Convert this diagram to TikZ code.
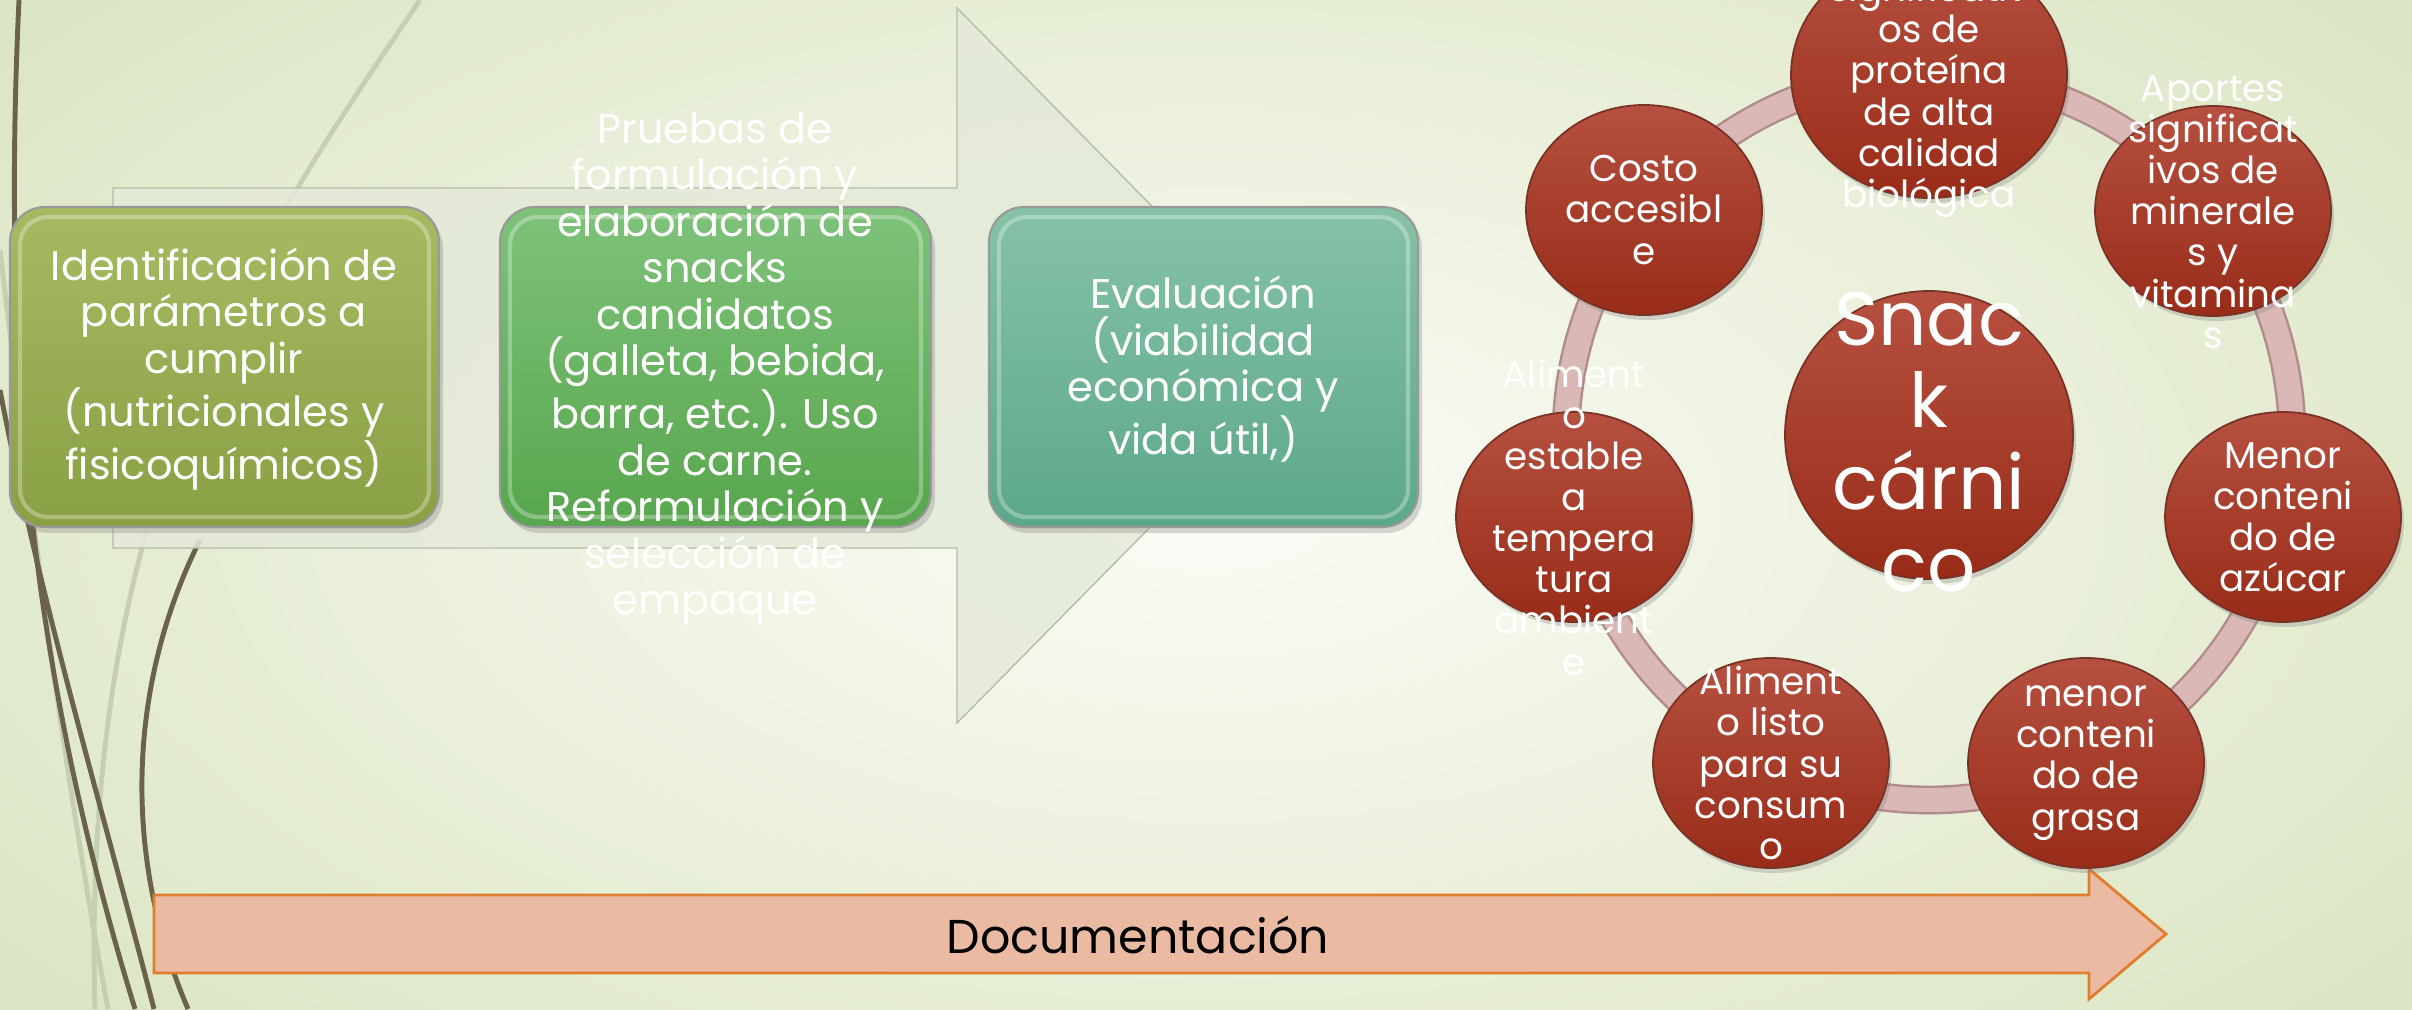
\documentclass[tikz,border=0pt]{standalone}
\usepackage{fontspec}
\setmainfont{Poppins}
\usetikzlibrary{shapes,shadows}
\definecolor{fondo}{RGB}{220,230,196}
\definecolor{claro}{RGB}{251,252,247}
\definecolor{cafe}{RGB}{108,98,76}
\definecolor{cafecl}{RGB}{198,208,176}
\definecolor{grisfl}{RGB}{228,234,216}
\definecolor{grisbd}{RGB}{180,188,170}
\definecolor{olivoa}{RGB}{166,186,98}
\definecolor{olivob}{RGB}{138,160,68}
\definecolor{verdea}{RGB}{126,194,122}
\definecolor{verdeb}{RGB}{88,166,78}
\definecolor{aguaa}{RGB}{134,194,168}
\definecolor{aguab}{RGB}{92,168,138}
\definecolor{rojoa}{RGB}{182,80,64}
\definecolor{rojob}{RGB}{152,44,24}
\definecolor{rojod}{RGB}{120,50,38}
\definecolor{rosa}{RGB}{218,184,182}
\definecolor{rosab}{RGB}{178,140,138}
\definecolor{salmon}{RGB}{234,187,162}
\definecolor{naranja}{RGB}{224,126,48}
\tikzstyle{caja}=[rounded corners=.35cm,draw=black!40,line width=.6pt,drop shadow={opacity=.3,shadow xshift=.04cm,shadow yshift=-.06cm}]
\tikzstyle{brillo}=[rounded corners=.28cm,draw=white,opacity=.3,line width=1.2pt]
\tikzstyle{bola}=[draw=rojod,line width=.5pt,top color=rojoa,bottom color=rojob,drop shadow={opacity=.3,shadow xshift=.03cm,shadow yshift=-.05cm}]
\tikzstyle{txt}=[white,align=center,inner sep=0pt,font=\fontsize{11.8}{13.2}\selectfont]
\tikzstyle{txtb}=[white,align=center,inner sep=0pt,font=\fontsize{10.6}{11.7}\selectfont]
\tikzstyle{tallo}=[draw=cafe,line width=1.4pt]
\tikzstyle{tallocl}=[draw=cafecl,line width=1.4pt]

\begin{document}
\begin{tikzpicture}[x=.01cm,y=-.01cm]
\useasboundingbox (0,0) rectangle (2412,1009);
\shade[inner color=claro,outer color=fondo] (-300,-250) rectangle (2712,1259);
\draw[tallocl] (420,0) .. controls (250,250) and (80,500) .. (95,1009);
\draw[tallocl] (0,250) .. controls (30,500) and (60,750) .. (108,1009);
\draw[tallo] (19,0) .. controls (0,400) and (40,700) .. (135,1009);
\draw[tallo] (0,390) .. controls (40,600) and (100,800) .. (154,1009);
\draw[tallo] (200,540) .. controls (130,680) and (120,850) .. (188,1009);
\draw[draw=grisbd,fill=grisfl,fill opacity=.85] (113,188) -- (957,188) -- (957,8) -- (1309,366) -- (957,723) -- (957,548) -- (113,548) -- cycle;
\draw[caja,top color=olivoa,bottom color=olivob] (10,207) rectangle (439,527);
\draw[brillo] (20,217) rectangle (429,517);
\draw[caja,top color=verdea,bottom color=verdeb] (500,207) rectangle (931,527);
\draw[brillo] (510,217) rectangle (921,517);
\draw[caja,top color=aguaa,bottom color=aguab] (989,207) rectangle (1418,527);
\draw[brillo] (999,217) rectangle (1408,517);
\draw (224,369) node[txt] (ident) {Identificación de\\parámetros a\\cumplir\\(nutricionales y\\fisicoquímicos)};
\draw (715,369) node[txt] (prueba) {Pruebas de\\formulación y\\elaboración de\\snacks\\candidatos\\(galleta, bebida,\\barra, etc.). Uso\\de carne.\\Reformulación y\\selección de\\empaque};
\draw (1203,369) node[txt] (evalua) {Evaluación\\(viabilidad\\económica y\\vida útil,)};
\draw[draw=naranja,fill=salmon,line width=.8pt] (154,895) -- (2089,895) -- (2089,869) -- (2166,934) -- (2089,999) -- (2089,973) -- (154,973) -- cycle;
\draw (1138,935) node[inner sep=0pt,font=\fontsize{13.5}{16}\selectfont] (docu) {Documentación};
\draw[rosab,line width=8.2pt] (1929,437) circle (363);
\draw[rosa,line width=6.8pt] (1929,437) circle (363);
\draw[bola] (1929,435) circle (144);
\draw[bola] (1929,75) ellipse (138 and 123);
\draw[bola] (1644,210) ellipse (118 and 105);
\draw[bola] (2213,211) ellipse (118 and 105);
\draw[bola] (1574,517) ellipse (118 and 105);
\draw[bola] (2283,517) ellipse (118 and 105);
\draw[bola] (1771,763) ellipse (118 and 105);
\draw[bola] (2086,763) ellipse (118 and 105);
\draw (1929,442) node[white,align=center,inner sep=0pt,font=\fontsize{21.5}{23.3}\selectfont] (snack) {Snac\\k\\cárni\\co};
\draw (1929,76) node[txtb] (prot) {Aportes\\significativ\\os de\\proteína\\de alta\\calidad\\biológica};
\draw (1644,210) node[txtb] (costo) {Costo\\accesibl\\e};
\draw (2213,212) node[txtb] (miner) {Aportes\\significat\\ivos de\\minerale\\s y\\vitamina\\s};
\draw (2283,517) node[txtb] (azuc) {Menor\\conteni\\do de\\azúcar};
\draw (1574,517) node[txtb] (estab) {Aliment\\o\\estable\\a\\tempera\\tura\\ambient\\e};
\draw (1771,763) node[txtb] (listo) {Aliment\\o listo\\para su\\consum\\o};
\draw (2086,763) node[txtb] (grasa) {menor\\conteni\\do de\\grasa};
\end{tikzpicture}
\end{document}
